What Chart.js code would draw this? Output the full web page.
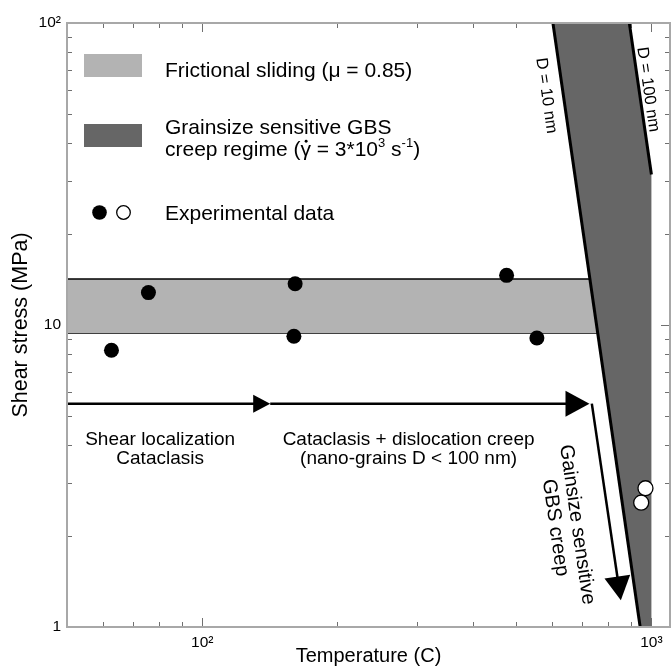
<!DOCTYPE html>
<html>
<head>
<meta charset="utf-8">
<script src="https://cdn.jsdelivr.net/npm/chart.js@4.4.0/dist/chart.umd.min.js"></script>
<style>
  html, body { margin: 0; padding: 0; background: #fff; }
  #wrap { width: 671px; height: 671px; }
</style>
</head>
<body>
<div id="wrap"><canvas id="myChart" width="671" height="671"></canvas></div>
<script>
const FONT = '"Liberation Sans", Arial, Helvetica, sans-serif';

// experimental data, temperature (C) vs shear stress (MPa)
const filledT = [62.8, 75.9, 161, 160, 476, 556];
const filledS = [8.25, 12.8, 13.7, 9.18, 14.6, 9.06];
const openT = [970, 949];
const openS = [2.88, 2.58];

// frictional sliding band (mu = 0.85), the right end is hidden under the GBS field
const bandT = [50, 800];
const bandTop = [14.2, 14.2];
const bandBottom = [9.4, 9.4];

// grainsize sensitive GBS creep field, between D = 10 nm and D = 100 nm
const gbsT = [603.6, 893, 1000, 1000, 944];
const gbsS = [100, 100, 31.5, 1, 1];
const d10T = [603.6, 944];
const d10S = [100, 1];
const d100T = [893, 1000];
const d100S = [100, 31.5];

// arrows (tail -> head)
const arrowFromT = [50, 141.7, 736.8];
const arrowFromS = [5.49, 5.49, 5.49];
const arrowToT = [141.7, 728, 855];
const arrowToS = [5.49, 5.49, 1.226];

// axis ticks
const xMajor = [100, 1000];
const xMinor = [60, 70, 80, 90, 200, 300, 400, 500, 600, 700, 800, 900];
const xTickLabels = ['10²', '10³'];
const yMajor = [1, 10, 100];
const yMinor = [2, 3, 4, 5, 6, 7, 8, 9, 20, 30, 40, 50, 60, 70, 80, 90];
const yTickLabels = ['1', '10', '10²'];

const pts = (xs, ys) => xs.map((x, i) => ({x: x, y: ys[i]}));

// text notes on the plot, placed in data units
const notes = [
  {lines: ['Shear localization', 'Cataclasis'], t: 80.6, s: 4.02, rot: 0, size: 19, gap: 19.5},
  {lines: ['Cataclasis + dislocation creep', '(nano-grains D < 100 nm)'], t: 288, s: 4.02, rot: 0, size: 19, gap: 19.5},
  {lines: ['Gainsize sensitive', 'GBS creep'], t: 664, s: 2.17, rot: 81.8, size: 20, gap: 22},
  {lines: ['D = 10 nm'], t: 570, s: 57.2, rot: 81.7, size: 16.5, gap: 0},
  {lines: ['D = 100 nm'], t: 960, s: 59.9, rot: 81.7, size: 16.5, gap: 0}
];

// text with ^superscript parts; '.' part puts a dot over the previous glyph
function richText(ctx, parts, x, y, size) {
  let cx = x, lastW = 0;
  parts.forEach(p => {
    if (p === '.') {
      ctx.beginPath();
      ctx.arc(cx - lastW / 2 + 0.5, y - size * 0.68, size * 0.07, 0, Math.PI * 2);
      ctx.fill();
      return;
    }
    const sup = p.startsWith('^');
    const t = sup ? p.slice(1) : p;
    ctx.font = (sup ? size * 0.62 : size) + 'px ' + FONT;
    ctx.fillText(t, cx, sup ? y - size * 0.42 : y);
    lastW = ctx.measureText(t.slice(-1)).width;
    cx += ctx.measureText(t).width;
  });
}

function drawArrow(ctx, x0, y0, x1, y1, len, half) {
  const ang = Math.atan2(y1 - y0, x1 - x0);
  const bx = x1 - Math.cos(ang) * len, by = y1 - Math.sin(ang) * len;
  ctx.beginPath();
  ctx.moveTo(x0, y0);
  ctx.lineTo(bx + Math.cos(ang), by + Math.sin(ang));
  ctx.stroke();
  ctx.beginPath();
  ctx.moveTo(x1, y1);
  ctx.lineTo(bx - Math.sin(ang) * half, by + Math.cos(ang) * half);
  ctx.lineTo(bx + Math.sin(ang) * half, by - Math.cos(ang) * half);
  ctx.closePath();
  ctx.fill();
}

const decor = {
  id: 'decor',
  beforeDatasetsDraw(chart) {
    // inward ticks on all four sides
    const {ctx, chartArea: a, scales: {x, y}} = chart;
    ctx.save();
    ctx.strokeStyle = '#707070';
    ctx.lineWidth = 1;
    ctx.beginPath();
    xMajor.concat(xMinor).forEach(v => {
      const len = xMajor.includes(v) ? 9 : 5;
      const px = Math.round(x.getPixelForValue(v)) + 0.5;
      ctx.moveTo(px, a.bottom); ctx.lineTo(px, a.bottom - len);
      ctx.moveTo(px, a.top); ctx.lineTo(px, a.top + len);
    });
    yMajor.concat(yMinor).forEach(v => {
      const len = yMajor.includes(v) ? 9 : 5;
      const py = Math.round(y.getPixelForValue(v)) + 0.5;
      ctx.moveTo(a.left, py); ctx.lineTo(a.left + len, py);
      ctx.moveTo(a.right, py); ctx.lineTo(a.right - len, py);
    });
    ctx.stroke();
    ctx.restore();
  },
  afterDatasetsDraw(chart) {
    const {ctx, chartArea: a, scales: {x, y}} = chart;
    ctx.save();

    // arrows
    ctx.strokeStyle = '#000';
    ctx.fillStyle = '#000';
    ctx.lineWidth = 2.5;
    arrowFromT.forEach((t, i) => {
      const big = i > 0;
      drawArrow(ctx,
        x.getPixelForValue(t), y.getPixelForValue(arrowFromS[i]),
        x.getPixelForValue(arrowToT[i]), y.getPixelForValue(arrowToS[i]),
        big ? 24 : 17, big ? 13 : 9);
    });

    // notes
    notes.forEach(n => {
      ctx.save();
      ctx.translate(x.getPixelForValue(n.t), y.getPixelForValue(n.s));
      ctx.rotate(n.rot * Math.PI / 180);
      ctx.font = n.size + 'px ' + FONT;
      ctx.textAlign = 'center';
      ctx.textBaseline = 'alphabetic';
      n.lines.forEach((l, i) => ctx.fillText(l, 0, i * n.gap));
      ctx.restore();
    });

    // legend
    ctx.textAlign = 'left';
    ctx.textBaseline = 'alphabetic';
    ctx.fillStyle = '#b3b3b3';
    ctx.fillRect(84, 54, 58, 23);
    ctx.fillStyle = '#666';
    ctx.fillRect(84, 124, 58, 23);
    ctx.fillStyle = '#000';
    ctx.font = '21px ' + FONT;
    ctx.fillText('Frictional sliding (μ = 0.85)', 165, 77);
    ctx.fillText('Grainsize sensitive GBS', 165, 134);
    richText(ctx, ['creep regime (γ', '.', ' = 3*10', '^3', ' s', '^-1', ')'], 165, 155.5, 21);
    ctx.font = '21px ' + FONT;
    ctx.fillText('Experimental data', 165, 220);
    ctx.beginPath();
    ctx.arc(99.5, 212.5, 7.3, 0, Math.PI * 2);
    ctx.fill();
    ctx.beginPath();
    ctx.arc(123.5, 212.5, 6.8, 0, Math.PI * 2);
    ctx.fillStyle = '#fff';
    ctx.fill();
    ctx.lineWidth = 1.3;
    ctx.strokeStyle = '#000';
    ctx.stroke();

    // frame
    ctx.strokeStyle = '#a8a8a8';
    ctx.lineWidth = 2;
    ctx.strokeRect(a.left, a.top, a.right - a.left, a.bottom - a.top);
    ctx.restore();
  }
};

const ctx = document.getElementById('myChart');
const myChart = new Chart(ctx, {
  type: 'line',
  data: {
    datasets: [
      {
        // filled symbols
        data: pts(filledT, filledS),
        showLine: false,
        pointRadius: 7.5,
        pointBackgroundColor: '#000',
        pointBorderColor: '#000',
        pointBorderWidth: 0,
        order: 0
      },
      {
        // open symbols
        data: pts(openT, openS),
        showLine: false,
        pointRadius: 7.5,
        pointBackgroundColor: '#fff',
        pointBorderColor: '#000',
        pointBorderWidth: 1.3,
        order: 0
      },
      {
        data: pts(d10T, d10S),
        borderColor: '#000',
        borderWidth: 3,
        pointRadius: 0,
        fill: false,
        order: 1
      },
      {
        data: pts(d100T, d100S),
        borderColor: '#000',
        borderWidth: 3,
        pointRadius: 0,
        fill: false,
        order: 1
      },
      {
        data: pts(gbsT, gbsS),
        borderWidth: 0,
        borderColor: 'rgba(0,0,0,0)',
        backgroundColor: '#666666',
        pointRadius: 0,
        fill: 'shape',
        order: 2
      },
      {
        data: pts(bandT, bandTop),
        borderColor: '#000',
        borderWidth: 1.5,
        backgroundColor: '#b3b3b3',
        pointRadius: 0,
        fill: '+1',
        order: 3
      },
      {
        data: pts(bandT, bandBottom),
        borderColor: '#000',
        borderWidth: 1.5,
        pointRadius: 0,
        fill: false,
        order: 3
      }
    ]
  },
  options: {
    responsive: false,
    animation: false,
    devicePixelRatio: 1,
    layout: { autoPadding: false, padding: { top: 23, right: 1, left: 0, bottom: 0 } },
    plugins: {
      legend: { display: false },
      tooltip: { enabled: false }
    },
    scales: {
      x: {
        type: 'logarithmic',
        min: 50,
        max: 1100,
        grid: { display: false, drawTicks: false },
        border: { display: false },
        afterBuildTicks: s => { s.ticks = xMajor.map(v => ({ value: v })); },
        afterFit: s => { s.height = 44; s.paddingLeft = 0; s.paddingRight = 0; },
        ticks: {
          autoSkip: false,
          maxRotation: 0,
          padding: 6,
          color: '#000',
          font: { size: 15.5, family: FONT },
          callback: v => xTickLabels[xMajor.indexOf(v)] || ''
        },
        title: {
          display: true,
          text: 'Temperature (C)',
          color: '#000',
          font: { size: 20, family: FONT },
          padding: { top: 0, bottom: 3 }
        }
      },
      y: {
        type: 'logarithmic',
        min: 1,
        max: 100,
        grid: { display: false, drawTicks: false },
        border: { display: false },
        afterBuildTicks: s => { s.ticks = yMajor.map(v => ({ value: v })); },
        afterFit: s => { s.width = 67; s.paddingTop = 0; s.paddingBottom = 0; },
        ticks: {
          autoSkip: false,
          padding: 6,
          color: '#000',
          font: { size: 15.5, family: FONT },
          callback: v => yTickLabels[yMajor.indexOf(v)] || ''
        },
        title: {
          display: true,
          text: 'Shear stress (MPa)',
          color: '#000',
          font: { size: 21.5, family: FONT },
          padding: { top: 8, bottom: 0 }
        }
      }
    }
  },
  plugins: [decor]
});
</script>
</body>
</html>
